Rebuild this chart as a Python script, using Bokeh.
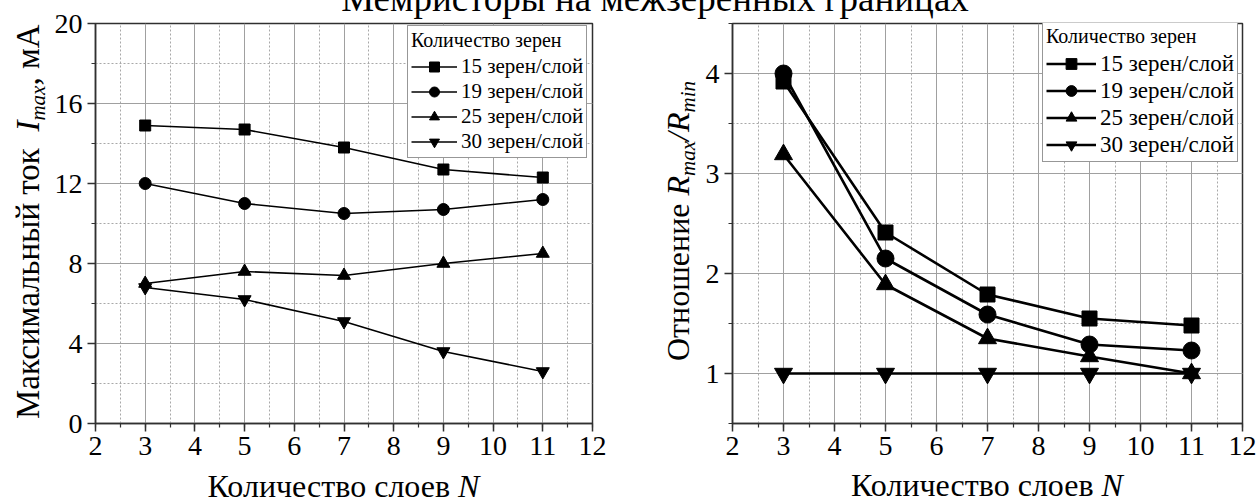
from bokeh.plotting import figure
from bokeh.models import Range1d, SingleIntervalTicker, Legend, LegendItem, Div
from bokeh.layouts import row, column
from bokeh.embed import file_html
from bokeh.resources import INLINE

# ---------------- data ----------------
N = [3, 5, 7, 9, 11]
series_labels = ["15 зерен/слой", "19 зерен/слой", "25 зерен/слой", "30 зерен/слой"]
legend_title = "Количество зерен"

i_max_15 = [14.9, 14.7, 13.8, 12.7, 12.3]
i_max_19 = [12.0, 11.0, 10.5, 10.7, 11.2]
i_max_25 = [7.0, 7.6, 7.4, 8.0, 8.5]
i_max_30 = [6.8, 6.2, 5.1, 3.6, 2.6]

ratio_15 = [3.92, 2.41, 1.79, 1.55, 1.48]
ratio_19 = [4.00, 2.15, 1.59, 1.29, 1.23]
ratio_25 = [3.19, 1.89, 1.35, 1.17, 1.00]
ratio_30 = [1.00, 1.00, 1.00, 1.00, 1.00]

title_text = "Мемристоры на межзеренных границах"
x_label_html = "Количество слоев <i>N</i>"
y_label_left_html = "Максимальный ток&nbsp; <i>I</i><span class='sb'>max</span>, мА"
y_label_right_html = "Отношение <i>R</i><span class='sb'>max</span><i>/R</i><span class='sb'>min</span>"

markers = ["square", "circle", "triangle", "inverted_triangle"]

SVG_FONT = "Liberation Serif"
SERIF_CSS = "'Liberation Serif', 'Times New Roman', serif"


def style_fig(p, y_interval):
    p.xaxis.ticker = SingleIntervalTicker(interval=1, num_minor_ticks=2)
    p.yaxis.ticker = SingleIntervalTicker(interval=y_interval, num_minor_ticks=2)
    p.grid.grid_line_color = "#a0a0a0"
    p.grid.grid_line_width = 1
    p.grid.minor_grid_line_color = "#a8a8a8"
    p.grid.minor_grid_line_dash = "2 2"
    p.grid.minor_grid_line_width = 1
    p.outline_line_color = "#303030"
    p.outline_line_width = 1.5
    p.outline_line_alpha = 1
    for ax in (p.xaxis, p.yaxis):
        ax.axis_line_color = "#303030"
        ax.axis_line_width = 1.5
        ax.major_tick_line_color = "#303030"
        ax.minor_tick_line_color = "#303030"
        ax.major_tick_line_width = 1.5
        ax.minor_tick_line_width = 1.2
        ax.major_tick_out = 8
        ax.major_tick_in = 0
        ax.minor_tick_out = 4
        ax.minor_tick_in = 0
        ax.major_label_text_font = SVG_FONT
        ax.major_label_text_font_size = "28px"
        ax.major_label_text_color = "black"
        ax.major_label_standoff = 5
        ax.axis_label = None
    p.background_fill_color = "white"
    p.border_fill_color = "white"


def add_series(p, ys_list, msizes, lw):
    items = []
    for ys, lab, mk, ms in zip(ys_list, series_labels, markers, msizes):
        r1 = p.line(N, ys, line_color="black", line_width=lw)
        r2 = p.scatter(N, ys, marker=mk, size=ms, fill_color="black", line_color="black")
        items.append(LegendItem(label=lab, renderers=[r1, r2]))
    return items


def add_legend(p, items, loc, title_size, label_size, row_h, glyph_w):
    lg = Legend(items=items, location=loc, title=legend_title,
                title_text_font=SVG_FONT, title_text_font_size=f"{title_size}px",
                title_text_font_style="normal", title_text_color="black",
                title_standoff=2,
                label_text_font=SVG_FONT, label_text_font_size=f"{label_size}px",
                label_text_color="black", label_height=row_h, glyph_height=row_h,
                glyph_width=glyph_w, label_standoff=4, spacing=0,
                padding=3, margin=0, border_line_color="#303030",
                border_line_width=1, background_fill_alpha=1.0)
    p.add_layout(lg)


FIG_H = 492

# page coordinates: the row starts at (0, 0)
left = figure(width=629, height=FIG_H, x_range=Range1d(2, 12), y_range=Range1d(0, 20),
              output_backend="svg", toolbar_location=None,
              min_border_left=95, min_border_right=37, min_border_top=23, min_border_bottom=69)
style_fig(left, 4)
items_l = add_series(left, [i_max_15, i_max_19, i_max_25, i_max_30], [11, 12, 13, 13], 1.6)
add_legend(left, items_l, (312, 265), 20, 21, 25, 46)

right = figure(width=629, height=FIG_H, x_range=Range1d(2, 12), y_range=Range1d(0.5, 4.5),
               output_backend="svg", toolbar_location=None,
               min_border_left=103, min_border_right=16, min_border_top=18, min_border_bottom=66)
style_fig(right, 1)
items_r = add_series(right, [ratio_15, ratio_19, ratio_25, ratio_30], [15, 17, 18, 18], 2.6)
add_legend(right, items_r, (310, 261), 20, 23, 27, 50)

# ---------------- title and axis labels (HTML overlay, painted above the figures) ----------------
OX, OY = 5, 507


def ylab(html, start_y, base_x, size):
    base = size * 0.838
    return (f'<div style="position:absolute; left:{base_x - base - OX:.1f}px; top:{start_y - OY:.1f}px; '
            f'transform-origin:0 0; transform:rotate(-90deg); white-space:nowrap; '
            f'font-family:{SERIF_CSS}; font-size:{size}px; line-height:{size}px; color:black;">{html}</div>')


def xlab(html, center_x, base_y, size, width=500):
    base = size * 0.838
    return (f'<div style="position:absolute; left:{center_x - width / 2 - OX:.1f}px; top:{base_y - base - OY:.1f}px; '
            f'width:{width}px; text-align:center; white-space:nowrap; '
            f'font-family:{SERIF_CSS}; font-size:{size}px; line-height:{size}px; color:black;">{html}</div>')


overlay_html = (
    "<style>.sb{font-style:italic; font-size:21px; position:relative; top:6px;}</style>"
    "<div style='position:relative; width:1242px; height:0px;'>"
    + xlab(title_text, 655, 8.5, 37, 900)
    + ylab(y_label_left_html, 417, 40, 33)
    + ylab(y_label_right_html, 359, 689, 32)
    + xlab(x_label_html, 343.5, 495, 32)
    + xlab(x_label_html, 987, 494, 32)
    + "</div>"
)
overlay = Div(text=overlay_html, width=1242, height=0, styles={"overflow": "visible"})

layout = column(row(left, right), overlay)
open("out.html", "w").write(file_html(layout, INLINE))
